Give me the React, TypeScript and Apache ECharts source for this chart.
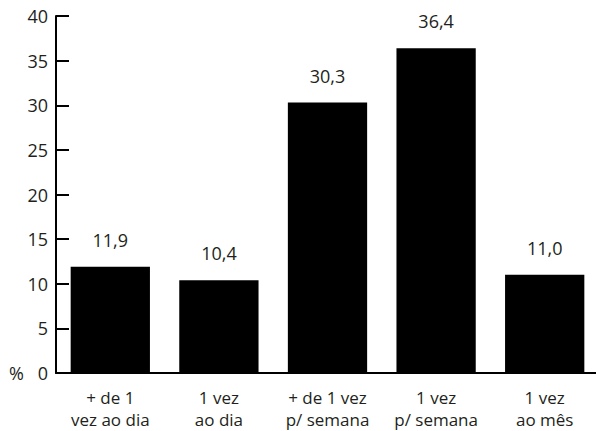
import React, { useEffect, useRef } from "react";
import * as echarts from "echarts";

const categories = ["+ de 1\nvez ao dia", "1 vez\nao dia", "+ de 1 vez\np/ semana", "1 vez\np/ semana", "1 vez\nao mês"];
const values = [11.9, 10.4, 30.3, 36.4, 11.0];
const yTicks = { min: 0, max: 40, interval: 5 };
const unitLabel = "%";

const FONT = "'Open Sans', 'Noto Sans', sans-serif";
const TXT = "#231f20";
const FS = 18;

export default function App() {
  const ref = useRef<HTMLDivElement>(null);
  useEffect(() => {
    if (!ref.current) return;
    const chart = echarts.init(ref.current, undefined, { renderer: "svg" });
    chart.setOption({
      animation: false,
      backgroundColor: "#ffffff",
      grid: { left: 56, right: -3, top: 16, bottom: 58, containLabel: false, outerBoundsMode: "none" },
      xAxis: {
        type: "category",
        data: categories,
        axisLine: { lineStyle: { color: "#000", width: 2 } },
        axisTick: { inside: true, length: 8, lineStyle: { color: "#000", width: 2 } },
        axisLabel: {
          color: TXT,
          fontFamily: FONT,
          fontSize: 17,
          lineHeight: 22,
          margin: 13,
          interval: 0,
        },
      },
      yAxis: {
        type: "value",
        min: yTicks.min,
        max: yTicks.max,
        interval: yTicks.interval,
        splitLine: { show: false },
        axisLine: { show: true, lineStyle: { color: "#000", width: 2 } },
        axisTick: { show: true, inside: true, length: 13, lineStyle: { color: "#000", width: 2 } },
        axisLabel: { color: TXT, fontFamily: FONT, fontSize: FS, margin: 8 },
      },
      graphic: [
        {
          type: "text",
          left: 9,
          top: 364,
          style: { text: unitLabel, fill: TXT, font: `${FS}px ${FONT}` },
        },
      ],
      series: [
        {
          type: "bar",
          data: values,
          barCategoryGap: "27%",
          itemStyle: { color: "#000" },
          label: {
            show: true,
            position: "top",
            distance: 18,
            color: TXT,
            fontFamily: FONT,
            fontSize: FS,
            formatter: (p: any) => p.value.toFixed(1).replace(".", ","),
          },
        },
      ],
    });
    return () => chart.dispose();
  }, []);
  return (
    <div
      ref={ref}
      style={{ position: "fixed", left: 0, top: 0, width: 596, height: 431, background: "#fff" }}
    />
  );
}
